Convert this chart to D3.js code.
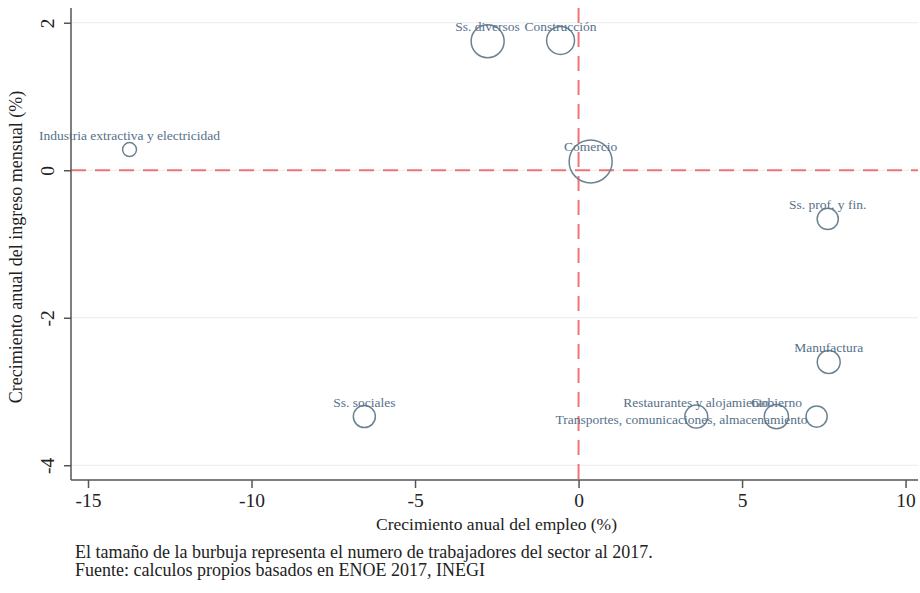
<!DOCTYPE html>
<html>
<head>
<meta charset="utf-8">
<script src="https://cdn.jsdelivr.net/npm/d3@7/dist/d3.min.js"></script>
<style>
  body { margin: 0; background: #fff; }
  svg { display: block; font-family: "Liberation Serif", "DejaVu Serif", serif; }
</style>
</head>
<body>
<svg id="chart" width="920" height="593"></svg>
<script>
// ---- Data ----
const sectors = ["Industria extractiva y electricidad", "Ss. diversos", "Construcción", "Comercio",
  "Ss. prof. y fin.", "Manufactura", "Ss. sociales", "Restaurantes y alojamiento", "Gobierno",
  "Transportes, comunicaciones, almacenamiento"];
const empleo = [-13.73, -2.78, -0.55, 0.37, 7.62, 7.65, -6.55, 3.6, 6.05, 7.28];
const ingreso = [0.28, 1.75, 1.76, 0.12, -0.66, -2.60, -3.34, -3.34, -3.34, -3.34];
const trabajadores = [1.0, 5.6, 4.0, 9.5, 2.3, 2.7, 2.5, 2.7, 3.0, 2.3]; // millones (aprox.)
const labelPos = [12, 12, 12, 12, 12, 12, 12, 12, 12, 9];
const xTicks = [-15, -10, -5, 0, 5, 10];
const yTicks = [2, 0, -2, -4];
const xTitle = "Crecimiento anual del empleo (%)";
const yTitle = "Crecimiento anual del ingreso mensual (%)";
const notes = ["El tamaño de la burbuja representa el numero de trabajadores del sector al 2017.",
  "Fuente: calculos propios basados en ENOE 2017, INEGI"];

// ---- Layout ----
const svg = d3.select("#chart");
const pL = 71, pR = 918, pT = 8, pB = 480;
const x = d3.scaleLinear().domain([-15.52, 10.38]).range([pL, pR]);
const y = d3.scaleLinear().domain([2.2, -4.2]).range([pT, pB]);
const r = d3.scaleSqrt().domain([0, 9.5]).range([0, 21.5]);
const fmt = d => String(d);

const data = sectors.map((s, i) => ({ s, x: empleo[i], y: ingreso[i], w: trabajadores[i], p: labelPos[i] }));

// gridlines
svg.append("g").selectAll("line").data(yTicks).join("line")
  .attr("x1", pL).attr("x2", pR)
  .attr("y1", d => y(d)).attr("y2", d => y(d))
  .attr("stroke", "#ebebeb").attr("stroke-width", 1.2);

// reference lines
svg.append("line").attr("x1", pL).attr("x2", pR).attr("y1", y(0)).attr("y2", y(0))
  .attr("stroke", "#f07474").attr("stroke-width", 2).attr("stroke-dasharray", "15,9");
svg.append("line").attr("x1", x(0)).attr("x2", x(0)).attr("y1", pT).attr("y2", pB)
  .attr("stroke", "#f07474").attr("stroke-width", 2).attr("stroke-dasharray", "15,9");

// axes
const xAxis = svg.append("g").attr("transform", `translate(0,${pB})`)
  .call(d3.axisBottom(x).tickValues(xTicks).tickSize(8).tickPadding(5).tickFormat(fmt));
const yAxis = svg.append("g").attr("transform", `translate(${pL},0)`)
  .call(d3.axisLeft(y).tickValues(yTicks).tickSize(7).tickPadding(0).tickFormat(fmt));
[xAxis, yAxis].forEach(a => {
  a.select(".domain").attr("stroke", "#555").attr("stroke-width", 1.5);
  a.selectAll(".tick line").attr("stroke", "#555").attr("stroke-width", 1.5);
  a.selectAll("text").attr("fill", "#222").style("font-size", "19.5px")
    .style("font-family", "'Liberation Serif', serif");
});
xAxis.select(".domain").attr("d", `M${pL},0H${pR}`);
yAxis.select(".domain").attr("d", `M0,${pT}V${pB}`);
yAxis.selectAll(".tick text")
  .attr("x", 0).attr("dy", null)
  .attr("text-anchor", "middle")
  .attr("transform", "translate(-21,0) rotate(-90)")
  .attr("dominant-baseline", "middle");

// bubbles
svg.append("g").selectAll("circle").data(data).join("circle")
  .attr("cx", d => x(d.x)).attr("cy", d => y(d.y)).attr("r", d => r(d.w))
  .attr("fill", "none").attr("stroke", "#6b8391").attr("stroke-width", 1.5);

// labels
svg.append("g").selectAll("text").data(data).join("text")
  .attr("x", d => d.p === 9 ? x(d.x) - 9 : x(d.x))
  .attr("y", d => d.p === 9 ? y(d.y) + 4 : y(d.y) - 13)
  .attr("text-anchor", d => d.p === 9 ? "end" : "middle")
  .attr("dominant-baseline", "middle")
  .attr("fill", "#56708a").style("font-size", "13.5px")
  .text(d => d.s);

// axis titles
svg.append("text").attr("x", (pL + pR) / 2 + 2).attr("y", 530)
  .attr("text-anchor", "middle").attr("fill", "#222").style("font-size", "17.5px").text(xTitle);
svg.append("text").attr("transform", `translate(18,${(pT + pB) / 2 + 3}) rotate(-90)`)
  .attr("text-anchor", "middle").attr("dominant-baseline", "middle")
  .attr("fill", "#222").style("font-size", "18px").text(yTitle);

// notes
svg.append("g").selectAll("text").data(notes).join("text")
  .attr("x", 75).attr("y", (d, i) => 558 + i * 18)
  .attr("fill", "#222").style("font-size", "18px").text(d => d);
</script>
</body>
</html>
